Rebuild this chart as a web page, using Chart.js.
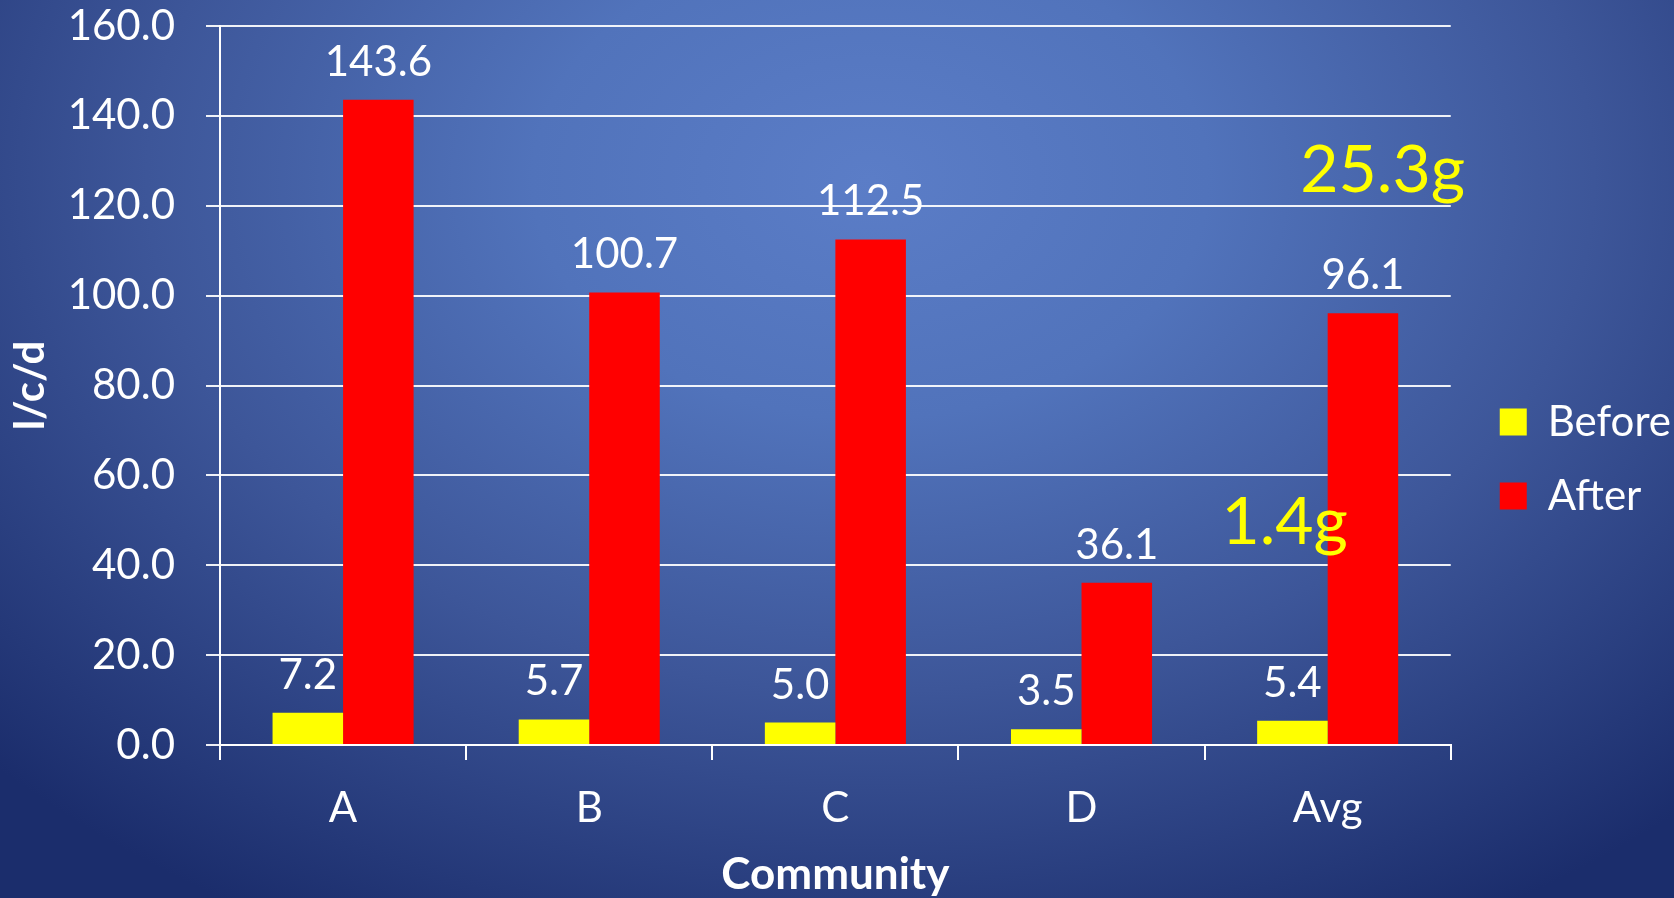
<!DOCTYPE html>
<html>
<head>
<meta charset="utf-8">
<title>l/c/d by community</title>
<script src="https://cdn.jsdelivr.net/npm/chart.js@4.4.1/dist/chart.umd.min.js"></script>
<style>
  html, body { margin: 0; padding: 0; }
  body {
    width: 1674px;
    height: 898px;
    overflow: hidden;
    background: radial-gradient(ellipse 72% 95% at 52% 20%, #5b7dc7 0%, #5173bb 28%, #3d5699 60%, #1b2d6c 100%);
  }
  canvas { display: block; }
</style>
</head>
<body>
<canvas id="chart" width="1674" height="898"></canvas>
<script>
const communities = ["A", "B", "C", "D", "Avg"];
const before = [7.2, 5.7, 5.0, 3.5, 5.4];
const after = [143.6, 100.7, 112.5, 36.1, 96.1];
const yTicks = [0, 20, 40, 60, 80, 100, 120, 140, 160];
const notes = ["25.3g", "1.4g"];

const FONT = "Lato";
const WHITE = "#ffffff";

// numbers above each bar
const valueLabels = {
  id: "valueLabels",
  afterDatasetsDraw(chart) {
    const ctx = chart.ctx;
    ctx.save();
    ctx.font = "42px " + FONT;
    ctx.fillStyle = WHITE;
    ctx.textAlign = "center";
    ctx.textBaseline = "alphabetic";
    chart.data.datasets.forEach((ds, i) => {
      chart.getDatasetMeta(i).data.forEach((bar, j) => {
        ctx.fillText(ds.data[j].toFixed(1), bar.x, bar.y - 24);
      });
    });
    ctx.restore();
  }
};

// the two yellow gram notes beside the Avg group
const gramNotes = {
  id: "gramNotes",
  afterDatasetsDraw(chart) {
    const { ctx, scales: { x, y } } = chart;
    const cx = x.getPixelForValue(communities.length - 1);
    ctx.save();
    ctx.font = "66px " + FONT;
    ctx.fillStyle = "#ffff00";
    ctx.textAlign = "center";
    ctx.textBaseline = "alphabetic";
    ctx.fillText(notes[0], cx + 55, y.getPixelForValue(123.1));
    ctx.fillText(notes[1], cx - 43, y.getPixelForValue(44.7));
    ctx.restore();
  }
};

// push the legend a bit away from the plot
const legendGap = {
  id: "legendGap",
  afterLayout(chart) {
    chart.legend.left += 17;
    chart.legend.right += 17;
  }
};

new Chart(document.getElementById("chart"), {
  type: "bar",
  data: {
    labels: communities,
    datasets: [
      { label: "Before", data: before, backgroundColor: "#ffff00" },
      { label: "After", data: after, backgroundColor: "#ff0000" }
    ]
  },
  options: {
    responsive: false,
    animation: false,
    categoryPercentage: 0.573,
    barPercentage: 1.0,
    layout: { padding: { top: 26, bottom: 6, left: 0, right: 10 } },
    plugins: {
      tooltip: { enabled: false },
      legend: {
        position: "right",
        align: "center",
        labels: {
          color: WHITE,
          font: { family: FONT, size: 42 },
          boxWidth: 27,
          boxHeight: 27,
          padding: 32
        }
      }
    },
    scales: {
      x: {
        afterFit(scale) { scale.height = 147; },
        grid: {
          offset: true,
          drawOnChartArea: false,
          drawTicks: true,
          tickLength: 15,
          color: WHITE,
          lineWidth: 2
        },
        border: { display: true, color: WHITE, width: 2 },
        ticks: {
          color: WHITE,
          font: { family: FONT, size: 42 },
          padding: 23
        },
        title: {
          display: true,
          text: "Community",
          color: WHITE,
          font: { family: FONT, size: 44, weight: "bold", lineHeight: 0.8 },
          padding: { top: 0, bottom: 0 }
        }
      },
      y: {
        min: yTicks[0],
        max: yTicks[yTicks.length - 1],
        afterFit(scale) {
          scale.width = 220;
          scale.paddingTop = 0;
          scale.paddingBottom = 0;
        },
        afterBuildTicks(scale) { scale.ticks = yTicks.map(v => ({ value: v })); },
        grid: {
          color: "rgba(255,255,255,0.92)",
          lineWidth: 2,
          drawTicks: true,
          tickLength: 14
        },
        border: { display: true, color: WHITE, width: 2 },
        ticks: {
          color: WHITE,
          font: { family: FONT, size: 42 },
          padding: 31,
          callback: v => v.toFixed(1)
        },
        title: {
          display: true,
          text: "l/c/d",
          color: WHITE,
          font: { family: FONT, size: 42, weight: "bold", lineHeight: 1.2 },
          padding: { top: 5, bottom: 0 }
        }
      }
    }
  },
  plugins: [valueLabels, gramNotes, legendGap]
});
</script>
</body>
</html>
